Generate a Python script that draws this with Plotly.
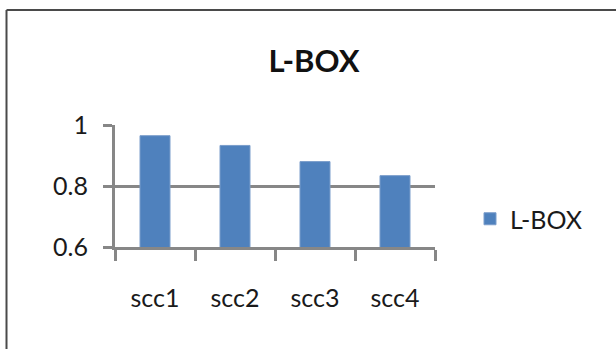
import plotly.graph_objects as go

# Data
categories = ["scc1", "scc2", "scc3", "scc4"]
lbox_values = [0.965, 0.933, 0.880, 0.834]
series_name = "L-BOX"
y_ticks = [0.6, 0.8, 1.0]
y_tick_labels = ["0.6", "0.8", "1"]

W, H = 616, 349
L, R, T, B = 115, 181, 125, 102
pw, ph = W - L - R, H - T - B


def px_to_paper(px, py):
    return (px - L) / pw, (H - B - py) / ph


grid = "#878787"
bar_color = "#4F81BD"
font_family = "Lato, 'Open Sans', sans-serif"

fig = go.Figure(
    go.Bar(
        x=categories,
        y=lbox_values,
        name=series_name,
        marker=dict(color=bar_color, line=dict(color="#7A9DCB", width=1)),
        showlegend=True,
    )
)

# chart frame: top and left edges
x0, y0 = px_to_paper(6.5, 10)
x1, _ = px_to_paper(W + 5, 10)
_, y1 = px_to_paper(6.5, H + 5)
fig.add_shape(type="line", xref="paper", yref="paper", x0=x0, x1=x1, y0=y0, y1=y0,
              line=dict(color="#4a4a4a", width=2))
fig.add_shape(type="line", xref="paper", yref="paper", x0=x0, x1=x0, y0=y0, y1=y1,
              line=dict(color="#4a4a4a", width=2))

tx, _ = px_to_paper(314, 0)
fig.update_layout(
    width=W,
    height=H,
    margin=dict(l=L, r=R, t=T, b=B, pad=0),
    paper_bgcolor="white",
    plot_bgcolor="white",
    bargap=0.625,
    font=dict(family=font_family, size=25, color="#1a1a1a"),
    title=dict(
        text="<b>L-BOX</b>",
        font=dict(family=font_family, size=31, color="#111111"),
        x=tx, xref="paper", xanchor="center",
        y=1 - 61 / H, yref="container", yanchor="middle",
    ),
    legend=dict(
        x=px_to_paper(470, 0)[0], xanchor="left",
        y=px_to_paper(0, 219)[1], yanchor="middle",
        font=dict(family=font_family, size=25, color="#1a1a1a"),
        bgcolor="rgba(0,0,0,0)",
    ),
    xaxis=dict(
        type="category",
        showline=True, linecolor=grid, linewidth=3,
        ticks="outside", tickson="boundaries", ticklen=11, tickwidth=3, tickcolor=grid,
        showgrid=False,
        ticklabelstandoff=27,
        fixedrange=True,
    ),
    yaxis=dict(
        range=[0.6, 1.0],
        tickvals=y_ticks, ticktext=y_tick_labels,
        showline=True, linecolor=grid, linewidth=3,
        showgrid=True, gridcolor=grid, gridwidth=3,
        ticks="outside", ticklen=9, tickwidth=3, tickcolor=grid,
        ticklabelstandoff=10,
        zeroline=False,
        fixedrange=True,
    ),
)

fig.write_html("out.html")
